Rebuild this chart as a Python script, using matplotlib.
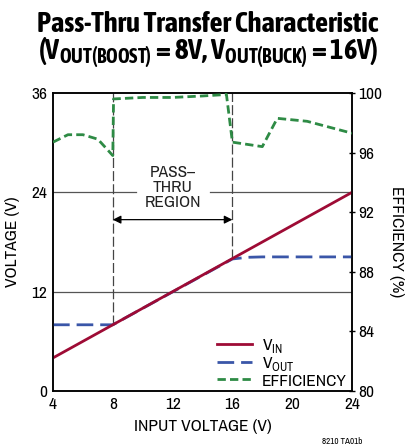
import matplotlib
matplotlib.use("Agg")
import matplotlib.pyplot as plt
from matplotlib import font_manager
import numpy as np


def is_bold(w):
    if isinstance(w, str):
        return 'bold' in w.lower() or 'black' in w.lower()
    return w >= 600


# pick a condensed face if one is installed, else plain Liberation Sans
fonts = font_manager.fontManager.ttflist
narrow = sorted({f.name for f in fonts if 'Narrow' in f.name or 'Condensed' in f.name})
narrow_bold = sorted({f.name for f in fonts
                      if ('Narrow' in f.name or 'Condensed' in f.name) and is_bold(f.weight)})
fam = narrow[0] if narrow else 'Liberation Sans'
fam_b = narrow_bold[0] if narrow_bold else fam
scale = 1.0 if narrow else 0.88

plt.rcParams['font.family'] = [fam, 'DejaVu Sans']
plt.rcParams['mathtext.fontset'] = 'custom'
plt.rcParams['mathtext.rm'] = fam
plt.rcParams['mathtext.bf'] = fam_b + ':bold'

# data
vin_x = [4, 24]
vin_y = [4, 24]
vout_x = [4, 8, 16, 17, 18, 24]
vout_y = [8, 8, 15.95, 16.15, 16.2, 16.2]
eff_x = [4, 5, 6, 7, 8, 8.05, 10, 12, 14, 15.6, 16, 18, 19, 21, 24]
eff_y = [96.7, 97.2, 97.2, 96.9, 95.8, 99.6, 99.7, 99.7, 99.8, 99.9, 96.7, 96.4, 98.3, 98.1, 97.3]

red = '#9e0b35'
blue = '#3a56a8'
green = '#2e8b45'

fs = 12.5 * scale

fig = plt.figure(figsize=(4.16, 4.46), dpi=100)
ax = fig.add_axes([0.1274, 0.1233, 0.7188, 0.6682])
ax2 = ax.twinx()

ax.set_xlim(4, 24)
ax.set_ylim(0, 36)
ax2.set_ylim(80, 100)

# grid lines at 12 and 24 (24 broken for the label)
ax.plot([4, 24], [12, 12], color='#555555', lw=0.9, zorder=1)
ax.plot([4, 9.55], [24, 24], color='#555555', lw=0.9, zorder=1)
ax.plot([14.5, 24], [24, 24], color='#555555', lw=0.9, zorder=1)

# pass-thru boundaries
ax.plot([8, 8], [8, 36], color='#444444', lw=0.9, dashes=(8, 2.5), zorder=1)
ax.plot([16, 16], [16, 36], color='#444444', lw=0.9, dashes=(8, 2.5), zorder=1)
ax.annotate('', xy=(8, 20.7), xytext=(16, 20.7),
            arrowprops=dict(arrowstyle='<|-|>', color='black', lw=0.9,
                            shrinkA=0, shrinkB=0, mutation_scale=12))
ax.text(12, 24.6, 'PASS\u2013\nTHRU\nREGION', ha='center', va='center',
        fontsize=fs, linespacing=1.0, color='#222222')

l1, = ax.plot(vin_x, vin_y, color=red, lw=2, zorder=4, label='V$_{\\rm IN}$')
l2, = ax.plot(vout_x, vout_y, color=blue, lw=2, dashes=(6, 2.5), zorder=3,
              label='V$_{\\rm OUT}$')
l3, = ax2.plot(eff_x, eff_y, color=green, lw=2, dashes=(3, 1.5), zorder=3,
               label='EFFICIENCY')

ax.set_xticks([4, 8, 12, 16, 20, 24])
ax.set_yticks([0, 12, 24, 36])
ax2.set_yticks([80, 84, 88, 92, 96, 100])
ax.tick_params(axis='both', length=0, labelsize=fs, pad=4)
ax2.tick_params(axis='y', direction='inout', length=5, width=1, labelsize=fs, pad=2)

for s in ax.spines.values():
    s.set_linewidth(1.1)
for s in ax2.spines.values():
    s.set_linewidth(1.1)

ax.set_xlabel('INPUT VOLTAGE (V)', fontsize=fs, labelpad=5)
ax.set_ylabel('VOLTAGE (V)', fontsize=fs, labelpad=8)
ax2.set_ylabel('EFFICIENCY (%)', fontsize=fs, rotation=-90, labelpad=16)

leg = ax.legend(handles=[l1, l2, l3], loc='lower right', frameon=False,
                fontsize=fs, handlelength=2.0, handletextpad=0.55,
                labelspacing=0.0, borderaxespad=0.0,
                bbox_to_anchor=(1.005, -0.015))

fig.text(0.5, 0.946, 'Pass-Thru Transfer Characteristic', ha='center', va='center',
         fontsize=20.5 * scale, family=[fam_b, 'DejaVu Sans'], fontweight='bold')
fig.text(0.5, 0.881,
         '(V$_{\\mathbf{OUT(BOOST)}}$ = 8V, V$_{\\mathbf{OUT(BUCK)}}$ = 16V)',
         ha='center', va='center', fontsize=20.5 * scale,
         family=[fam_b, 'DejaVu Sans'], fontweight='bold')
fig.text(0.87, 0.0, '8210 TA01b', ha='right', va='bottom', fontsize=6.5)

fig.savefig('out.png', dpi=100)
